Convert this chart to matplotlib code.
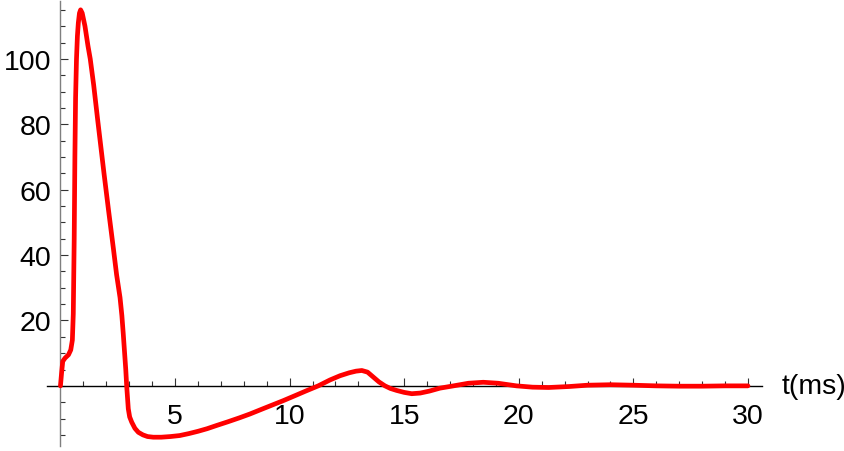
import matplotlib
matplotlib.use("Agg")
from matplotlib import pyplot as plt
from matplotlib import rcParams
from matplotlib.transforms import blended_transform_factory

rcParams['font.family'] = ['Liberation Sans', 'DejaVu Sans']

# voltage trace (t in ms)
t = [0.0, 0.05, 0.1, 0.2, 0.35, 0.45, 0.52, 0.56, 0.6, 0.63, 0.66, 0.7,
     0.74, 0.78, 0.83, 0.88, 0.95, 1.07, 1.2, 1.3, 1.45, 1.63, 1.9, 2.1,
     2.31, 2.45, 2.6, 2.68, 2.74, 2.8, 2.85, 2.89, 2.93, 2.96, 3.02, 3.11,
     3.25, 3.4, 3.6, 3.8, 4.05, 4.4, 4.8, 5.2, 5.6, 6.0, 6.4, 6.82, 7.3,
     7.8, 8.27, 8.8, 9.3, 9.73, 10.2, 10.7, 11.25, 11.76, 12.2, 12.6, 12.9,
     13.15, 13.4, 13.65, 13.9, 14.16, 14.4, 14.67, 15.0, 15.33, 15.7, 16.1,
     16.56, 17.15, 17.8, 18.45, 19.1, 19.9, 20.6, 21.3, 22.2, 23.0, 24.0,
     25.0, 26.0, 27.0, 28.0, 29.0, 30.0]
v = [0, 4, 7.5, 8.5, 9.5, 11, 14, 22, 45, 70, 88, 100,
     107, 111, 114, 115, 114, 110, 104, 100, 92, 81, 65, 53.6,
     42, 34, 27, 21.5, 16, 10, 5, 0, -4, -7, -9.5, -11.1,
     -13, -14.2, -15.0, -15.5, -15.7, -15.7, -15.5, -15.2, -14.6, -13.9,
     -13.1, -12.1, -11.0, -9.8, -8.6, -7.1, -5.7, -4.5, -3.1, -1.6, 0,
     1.8, 3.1, 4.0, 4.5, 4.7, 4.2, 2.7, 1.2, 0,
     -0.8, -1.4, -2.0, -2.4, -2.2, -1.6, -0.7, 0, 0.8, 1.1, 0.8,
     0, -0.4, -0.5, -0.2, 0.2, 0.35, 0.2, 0.0, -0.1, -0.1, 0.0, 0.0]

x_major = [5, 10, 15, 20, 25, 30]
y_major = [20, 40, 60, 80, 100]

fig = plt.figure(figsize=(8.45, 4.52), dpi=100)
ax = fig.add_axes([46.7 / 845, 5.3 / 452, 715 / 845, 444.7 / 452])

ax.plot(t, v, color='#ff0000', lw=3.4, solid_joinstyle='round',
        solid_capstyle='round', zorder=3)

ax.set_xlim(-0.6, 30.6)
ax.set_ylim(-18.3, 117.7)

for side in ['top', 'right']:
    ax.spines[side].set_visible(False)
ax.spines['left'].set_position(('data', 0))
ax.spines['bottom'].set_position(('data', 0))
ax.spines['left'].set_color('#7f7f7f')
ax.spines['bottom'].set_color('#000000')
ax.spines['left'].set_linewidth(1.0)
ax.spines['bottom'].set_linewidth(1.0)

ax.set_xticks(x_major)
ax.set_xticks([i for i in range(1, 31) if i % 5 != 0], minor=True)
ax.set_yticks(y_major)
ax.set_yticks([i for i in range(-15, 116, 5) if i % 20 != 0 or i <= 0], minor=True)

ax.tick_params(axis='both', which='both', direction='in', color='#333333',
               labelsize=20.5)
ax.tick_params(axis='both', which='major', length=6, width=0.8)
ax.tick_params(axis='both', which='minor', length=3.5, width=0.8)
ax.tick_params(axis='x', which='major', pad=12)
ax.tick_params(axis='y', which='major', pad=6.5)

tr = blended_transform_factory(ax.transAxes, ax.transData)
ax.text(1.028, 0, 't(ms)', transform=tr, fontsize=20.5, ha='left', va='center')

fig.savefig('out.png', dpi=100)
